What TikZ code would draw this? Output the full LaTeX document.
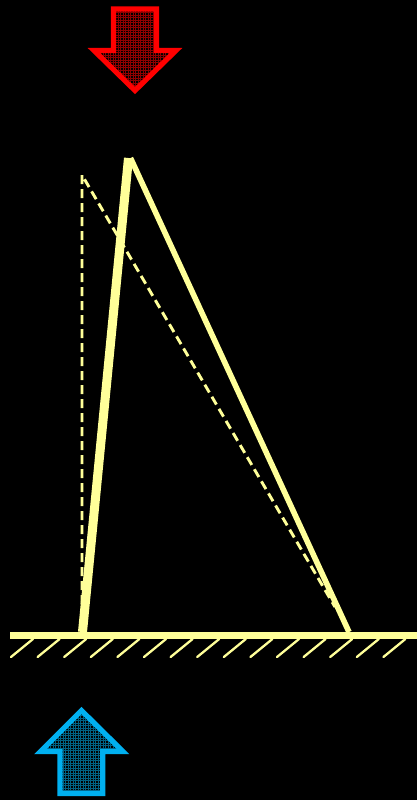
\documentclass[tikz,border=0pt]{standalone}
\definecolor{lineyellow}{HTML}{FFFF99}
\definecolor{arrowred}{HTML}{FF0000}
\definecolor{arrowblue}{HTML}{00B0F0}
\tikzset{
  px/.style={x=1pt,y=-1pt},
  beam/.style={draw=lineyellow,line width=9pt,line cap=butt},
  strut/.style={draw=lineyellow,line width=5.6pt,line cap=butt},
  ghost/.style={draw=lineyellow,line width=2.9pt,dash pattern=on 9pt off 5pt},
  ground/.style={draw=lineyellow,line width=7pt},
  hatchline/.style={draw=lineyellow,line width=2.3pt,line cap=round},
  bigarrow/.style={line width=5.2pt,miter limit=10,line join=miter},
  weave/.style={line width=.5pt}
}
\begin{document}
\begin{tikzpicture}[px]
\useasboundingbox[fill=black] (0,0) rectangle (417,800);
% ground
\foreach \hx in {11,37.6,64.2,90.8,117.4,144,170.6,197.2,223.8,250.4,277,303.6,330.2,356.8,383.4}
  \draw[hatchline] (\hx,657) -- (\hx+22,639);
\draw[ground] (10,635.2) -- (417,635.2);
% dashed figure
\coordinate (A) at (82,632);
\coordinate (G) at (82,175);
\coordinate (H) at (335,607);
\draw[ghost] (A) -- (G) -- (H);
% solid figure
\coordinate (B) at (82.5,632);
\coordinate (T) at (128.5,158);
\coordinate (T2) at (130.5,158);
\coordinate (C) at (349,632);
\draw[beam] (B) -- (T);
\draw[strut] (T2) -- (C);
% red arrow
\begin{scope}
\clip (113.5,9) -- (156.5,9) -- (156.5,50.5) -- (176,50.5) -- (135,90.5) -- (94,50.5) -- (113.5,50.5) -- cycle;
\foreach \k in {0,...,40} {
  \draw[arrowred!55!black,weave] (90.25+\k*2.5,0) -- (90.25+\k*2.5,100);
  \draw[arrowred!55!black,weave] (80,5.25+\k*2.5) -- (190,5.25+\k*2.5);
}
\end{scope}
\draw[arrowred,bigarrow] (113.5,9) -- (156.5,9) -- (156.5,50.5) -- (176,50.5) -- (135,90.5) -- (94,50.5) -- (113.5,50.5) -- cycle;
% blue arrow
\begin{scope}
\clip (81.5,710.5) -- (123,751.5) -- (102.7,751.5) -- (102.7,793.4) -- (60,793.4) -- (60,751.5) -- (40.5,751.5) -- cycle;
\foreach \k in {0,...,40} {
  \draw[arrowblue!55!black,weave] (35.25+\k*2.5,700) -- (35.25+\k*2.5,800);
  \draw[arrowblue!55!black,weave] (30,705.25+\k*2.5) -- (130,705.25+\k*2.5);
}
\end{scope}
\draw[arrowblue,bigarrow] (81.5,710.5) -- (123,751.5) -- (102.7,751.5) -- (102.7,793.4) -- (60,793.4) -- (60,751.5) -- (40.5,751.5) -- cycle;
\end{tikzpicture}
\end{document}
